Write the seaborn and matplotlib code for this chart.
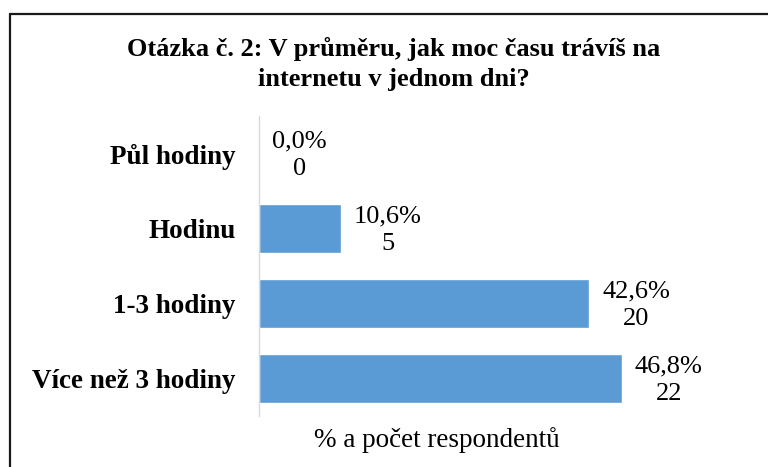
import matplotlib
matplotlib.use('Agg')
import matplotlib.pyplot as plt
import seaborn as sns
import pandas as pd
from matplotlib.lines import Line2D

# Data
categories = ['Půl hodiny', 'Hodinu', '1-3 hodiny', 'Více než 3 hodiny']
percent = [0.0, 10.6, 42.6, 46.8]
counts = [0, 5, 20, 22]

title = 'Otázka č. 2: V průměru, jak moc času trávíš na\ninternetu v jednom dni?'
x_label = '% a počet respondentů'

sns.set_style('white')
plt.rcParams['font.family'] = ['Liberation Serif', 'DejaVu Serif']
plt.rcParams['text.color'] = 'black'
plt.rcParams['ytick.color'] = 'black'

W, H = 768, 467
fig = plt.figure(figsize=(W / 100, H / 100), dpi=100)
ax = fig.add_axes([259 / W, 1 - 416 / H, 465 / W, 300 / H])

df = pd.DataFrame({'kategorie': categories, 'procenta': percent})
sns.barplot(data=df, x='procenta', y='kategorie', orient='h',
            color='#5B9BD5', saturation=1, width=0.65, ax=ax)

ax.set_xlim(0, 60)
ax.set_ylim(3.5, -0.5)
ax.set_xticks([])
ax.set_xlabel('')
ax.set_ylabel('')
for side in ['top', 'right', 'bottom']:
    ax.spines[side].set_visible(False)
ax.spines['left'].set_color('#d9d9d9')
ax.spines['left'].set_linewidth(1.0)
ax.tick_params(axis='y', length=0, pad=17, labelsize=19.5, labelcolor='black')
for lbl in ax.get_yticklabels():
    lbl.set_fontweight('bold')

# Data labels: percentage and count
for i, (p, n) in enumerate(zip(percent, counts)):
    txt = f'{p:.1f}%'.replace('.', ',') + f'\n{n}'
    ax.annotate(txt, xy=(p, i), xytext=(13, -2), textcoords='offset pixels',
                ha='left', va='center', multialignment='center',
                fontsize=19, linespacing=1.35, color='black')

fig.text(394 / W, 1 - 37 / H, title, ha='center', va='top', color='black',
         fontsize=19, fontweight='bold', linespacing=1.4)
fig.text(437 / W, 1 - 440 / H, x_label, ha='center', va='center',
         fontsize=19.5, color='black')

# Chart frame (left and top edges visible)
fig.add_artist(Line2D([10 / W, 10 / W], [0, 1 - 14 / H], color='#1a1a1a', lw=1.6))
fig.add_artist(Line2D([10 / W, 1], [1 - 14 / H, 1 - 14 / H], color='#1a1a1a', lw=1.6))

fig.savefig('out.png', dpi=100)
